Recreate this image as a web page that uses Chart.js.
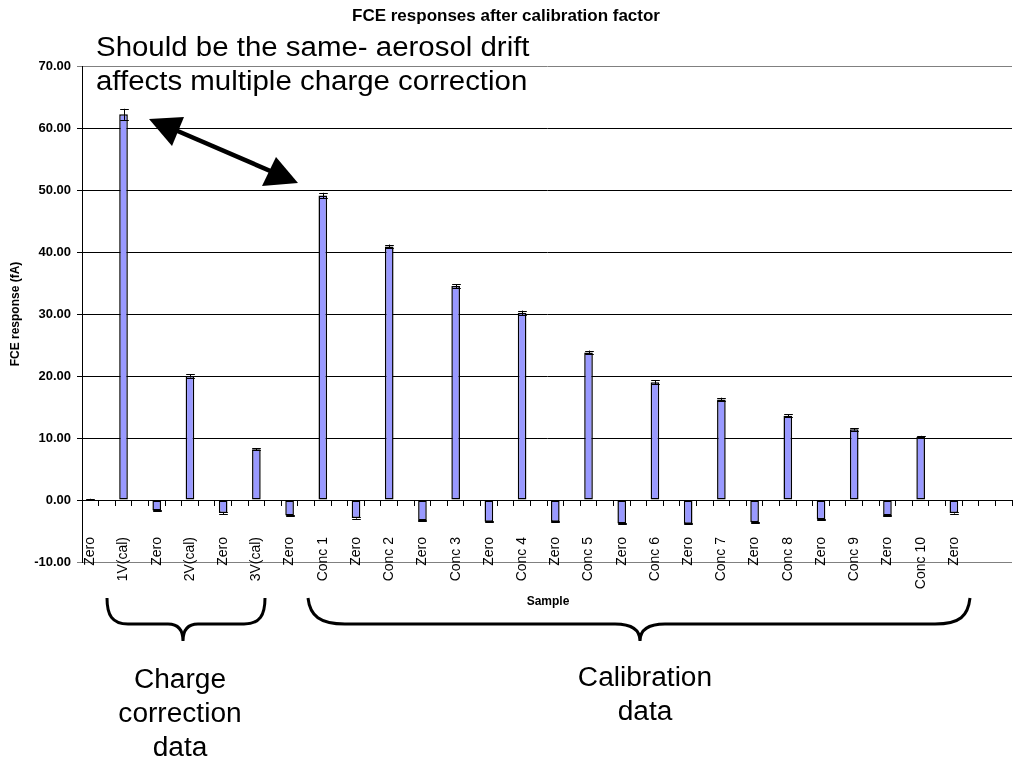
<!DOCTYPE html>
<html>
<head>
<meta charset="utf-8">
<script src="https://cdn.jsdelivr.net/npm/chart.js@4.4.1/dist/chart.umd.min.js"></script>
<style>
  html, body { margin: 0; padding: 0; background: #fff; }
  #wrap { position: relative; width: 1020px; height: 758px; overflow: hidden; font-family: "Liberation Sans", Arial, sans-serif; }
  #wrap canvas { position: absolute; left: 0; top: 0; }
  .note { position: absolute; color: #000; font-size: 27px; line-height: 34px; white-space: nowrap; transform-origin: left top; transform: scaleX(1.09); }
  .center { text-align: center; transform-origin: center top; transform: scaleX(1.04); }
  .axisTitle { position: absolute; font-weight: bold; font-size: 12px; color: #000; white-space: nowrap; }
  svg { position: absolute; left: 0; top: 0; pointer-events: none; }
</style>
</head>
<body>
<div id="wrap">
  <canvas id="c" width="1020" height="758"></canvas>
  <div class="note" style="left:96px; top:30px;">Should be the same- aerosol drift<br>affects multiple charge correction</div>
  <div class="note center" style="left:80px; top:662px; width:200px;">Charge<br>correction<br>data</div>
  <div class="note center" style="left:545px; top:660px; width:200px;">Calibration<br>data</div>
  <div class="axisTitle" style="left:500px; top:594px; width:96px; text-align:center;">Sample</div>
  <svg width="1020" height="758" viewBox="0 0 1020 758">
    <line x1="166" y1="126" x2="282" y2="176" stroke="#000" stroke-width="4.5"/>
    <polygon points="149,119 184,117 172,146" fill="#000"/>
    <polygon points="298,183 276,157 262,186" fill="#000"/>
    <path d="M107,598 C107,615 112,624 128,624 L168,624 C178,624 183,630 183,641 C183,630 188,624 198,624 L244,624 C260,624 265,615 265,598" fill="none" stroke="#000" stroke-width="3"/>
    <path d="M308,598 C310,616 320,624 345,624 L615,624 C632,624 640,630 640,641 C640,630 648,624 665,624 L935,624 C960,624 968,616 970,598" fill="none" stroke="#000" stroke-width="3"/>
  </svg>
</div>
<script>
// ---- data ----
const sampleNames = ['Zero','1V(cal)','Zero','2V(cal)','Zero','3V(cal)','Zero','Conc 1','Zero','Conc 2','Zero','Conc 3','Zero','Conc 4','Zero','Conc 5','Zero','Conc 6','Zero','Conc 7','Zero','Conc 8','Zero','Conc 9','Zero','Conc 10','Zero'];
const responses   = [0.1, 62.2, -1.7, 20.0, -2.1, 8.2, -2.5, 49.1, -2.9, 40.9, -3.3, 34.5, -3.5, 30.2, -3.5, 23.8, -3.8, 19.0, -3.85, 16.2, -3.6, 13.6, -3.1, 11.4, -2.5, 10.2, -2.1];
const errors      = [0.1, 0.9, 0.15, 0.25, 0.15, 0.15, 0.1, 0.45, 0.1, 0.3, 0.1, 0.3, 0.1, 0.35, 0.1, 0.3, 0.1, 0.3, 0.1, 0.3, 0.1, 0.2, 0.1, 0.2, 0.1, 0.15, 0.1];
const trailingEmptyCategories = 3;
const yTicks = { min: -10, max: 70, step: 10 };

// Excel axis: every sample is followed by an empty category slot
const categories = [], values = [], errs = [];
sampleNames.forEach((n, i) => {
  categories.push(n); values.push(responses[i]); errs.push(errors[i]);
  if (i < sampleNames.length - 1) { categories.push(''); values.push(null); errs.push(null); }
});
for (let k = 0; k < trailingEmptyCategories; k++) { categories.push(''); values.push(null); errs.push(null); }

Chart.defaults.font.family = '"Liberation Sans", Arial, sans-serif';
Chart.defaults.color = '#000';

const errorBars = {
  id: 'errorBars',
  afterDatasetsDraw(chart) {
    const meta = chart.getDatasetMeta(0);
    const y = chart.scales.y;
    const ctx = chart.ctx;
    ctx.save();
    ctx.strokeStyle = '#000';
    ctx.lineWidth = 1;
    meta.data.forEach((bar, i) => {
      const v = values[i], e = errs[i];
      if (v === null || e === null) return;
      const x = Math.round(bar.x) + 0.5;
      const yt = y.getPixelForValue(v + e);
      const yb = y.getPixelForValue(v - e);
      const hw = bar.width / 2;
      ctx.beginPath();
      ctx.moveTo(x, yt); ctx.lineTo(x, yb);
      ctx.moveTo(x - hw, Math.round(yt) + 0.5); ctx.lineTo(x + hw, Math.round(yt) + 0.5);
      ctx.moveTo(x - hw, Math.round(yb) + 0.5); ctx.lineTo(x + hw, Math.round(yb) + 0.5);
      ctx.stroke();
    });
    ctx.restore();
  }
};

new Chart(document.getElementById('c'), {
  type: 'bar',
  data: {
    labels: categories,
    datasets: [{
      data: values,
      backgroundColor: '#9999FF',
      borderColor: '#000',
      borderWidth: 1.5,
      borderSkipped: false,
      barPercentage: 0.52,
      categoryPercentage: 1.0
    }]
  },
  options: {
    responsive: false,
    animation: false,
    layout: { padding: { left: 0, right: 8, top: 0, bottom: 196 } },
    plugins: {
      legend: { display: false },
      tooltip: { enabled: false },
      title: {
        display: true,
        text: 'FCE responses after calibration factor',
        font: { size: 17, weight: 'bold' },
        color: '#000',
        padding: { top: 6, bottom: 39.6 }
      }
    },
    scales: {
      x: {
        type: 'category',
        position: { y: 0 },
        offset: true,
        afterFit(scale) { scale.paddingLeft = 0; scale.paddingRight = 0; },
        grid: { display: true, drawOnChartArea: false, drawTicks: true, tickLength: 5, color: '#000', offset: true },
        border: { display: true, color: '#000', width: 1 },
        ticks: { autoSkip: false, minRotation: 90, maxRotation: 90, padding: 32, font: { size: 14 }, color: '#000' }
      },
      y: {
        position: 'left',
        min: yTicks.min,
        max: yTicks.max,
        afterFit(scale) { scale.width = 82; },
        ticks: {
          stepSize: yTicks.step,
          padding: 6,
          font: { size: 13, weight: 'bold' },
          color: '#000',
          callback: (v) => Number(v).toFixed(2)
        },
        grid: {
          tickLength: 5,
          color: (c) => (c.tick && (c.tick.value === yTicks.min || c.tick.value === yTicks.max)) ? '#808080' : '#000',
          lineWidth: 1
        },
        border: { display: true, color: '#000', width: 1 },
        title: { display: true, text: 'FCE response (fA)', font: { size: 12, weight: 'bold' }, color: '#000', padding: { top: 8, bottom: 0 } }
      }
    }
  },
  plugins: [errorBars]
});
</script>
</body>
</html>
